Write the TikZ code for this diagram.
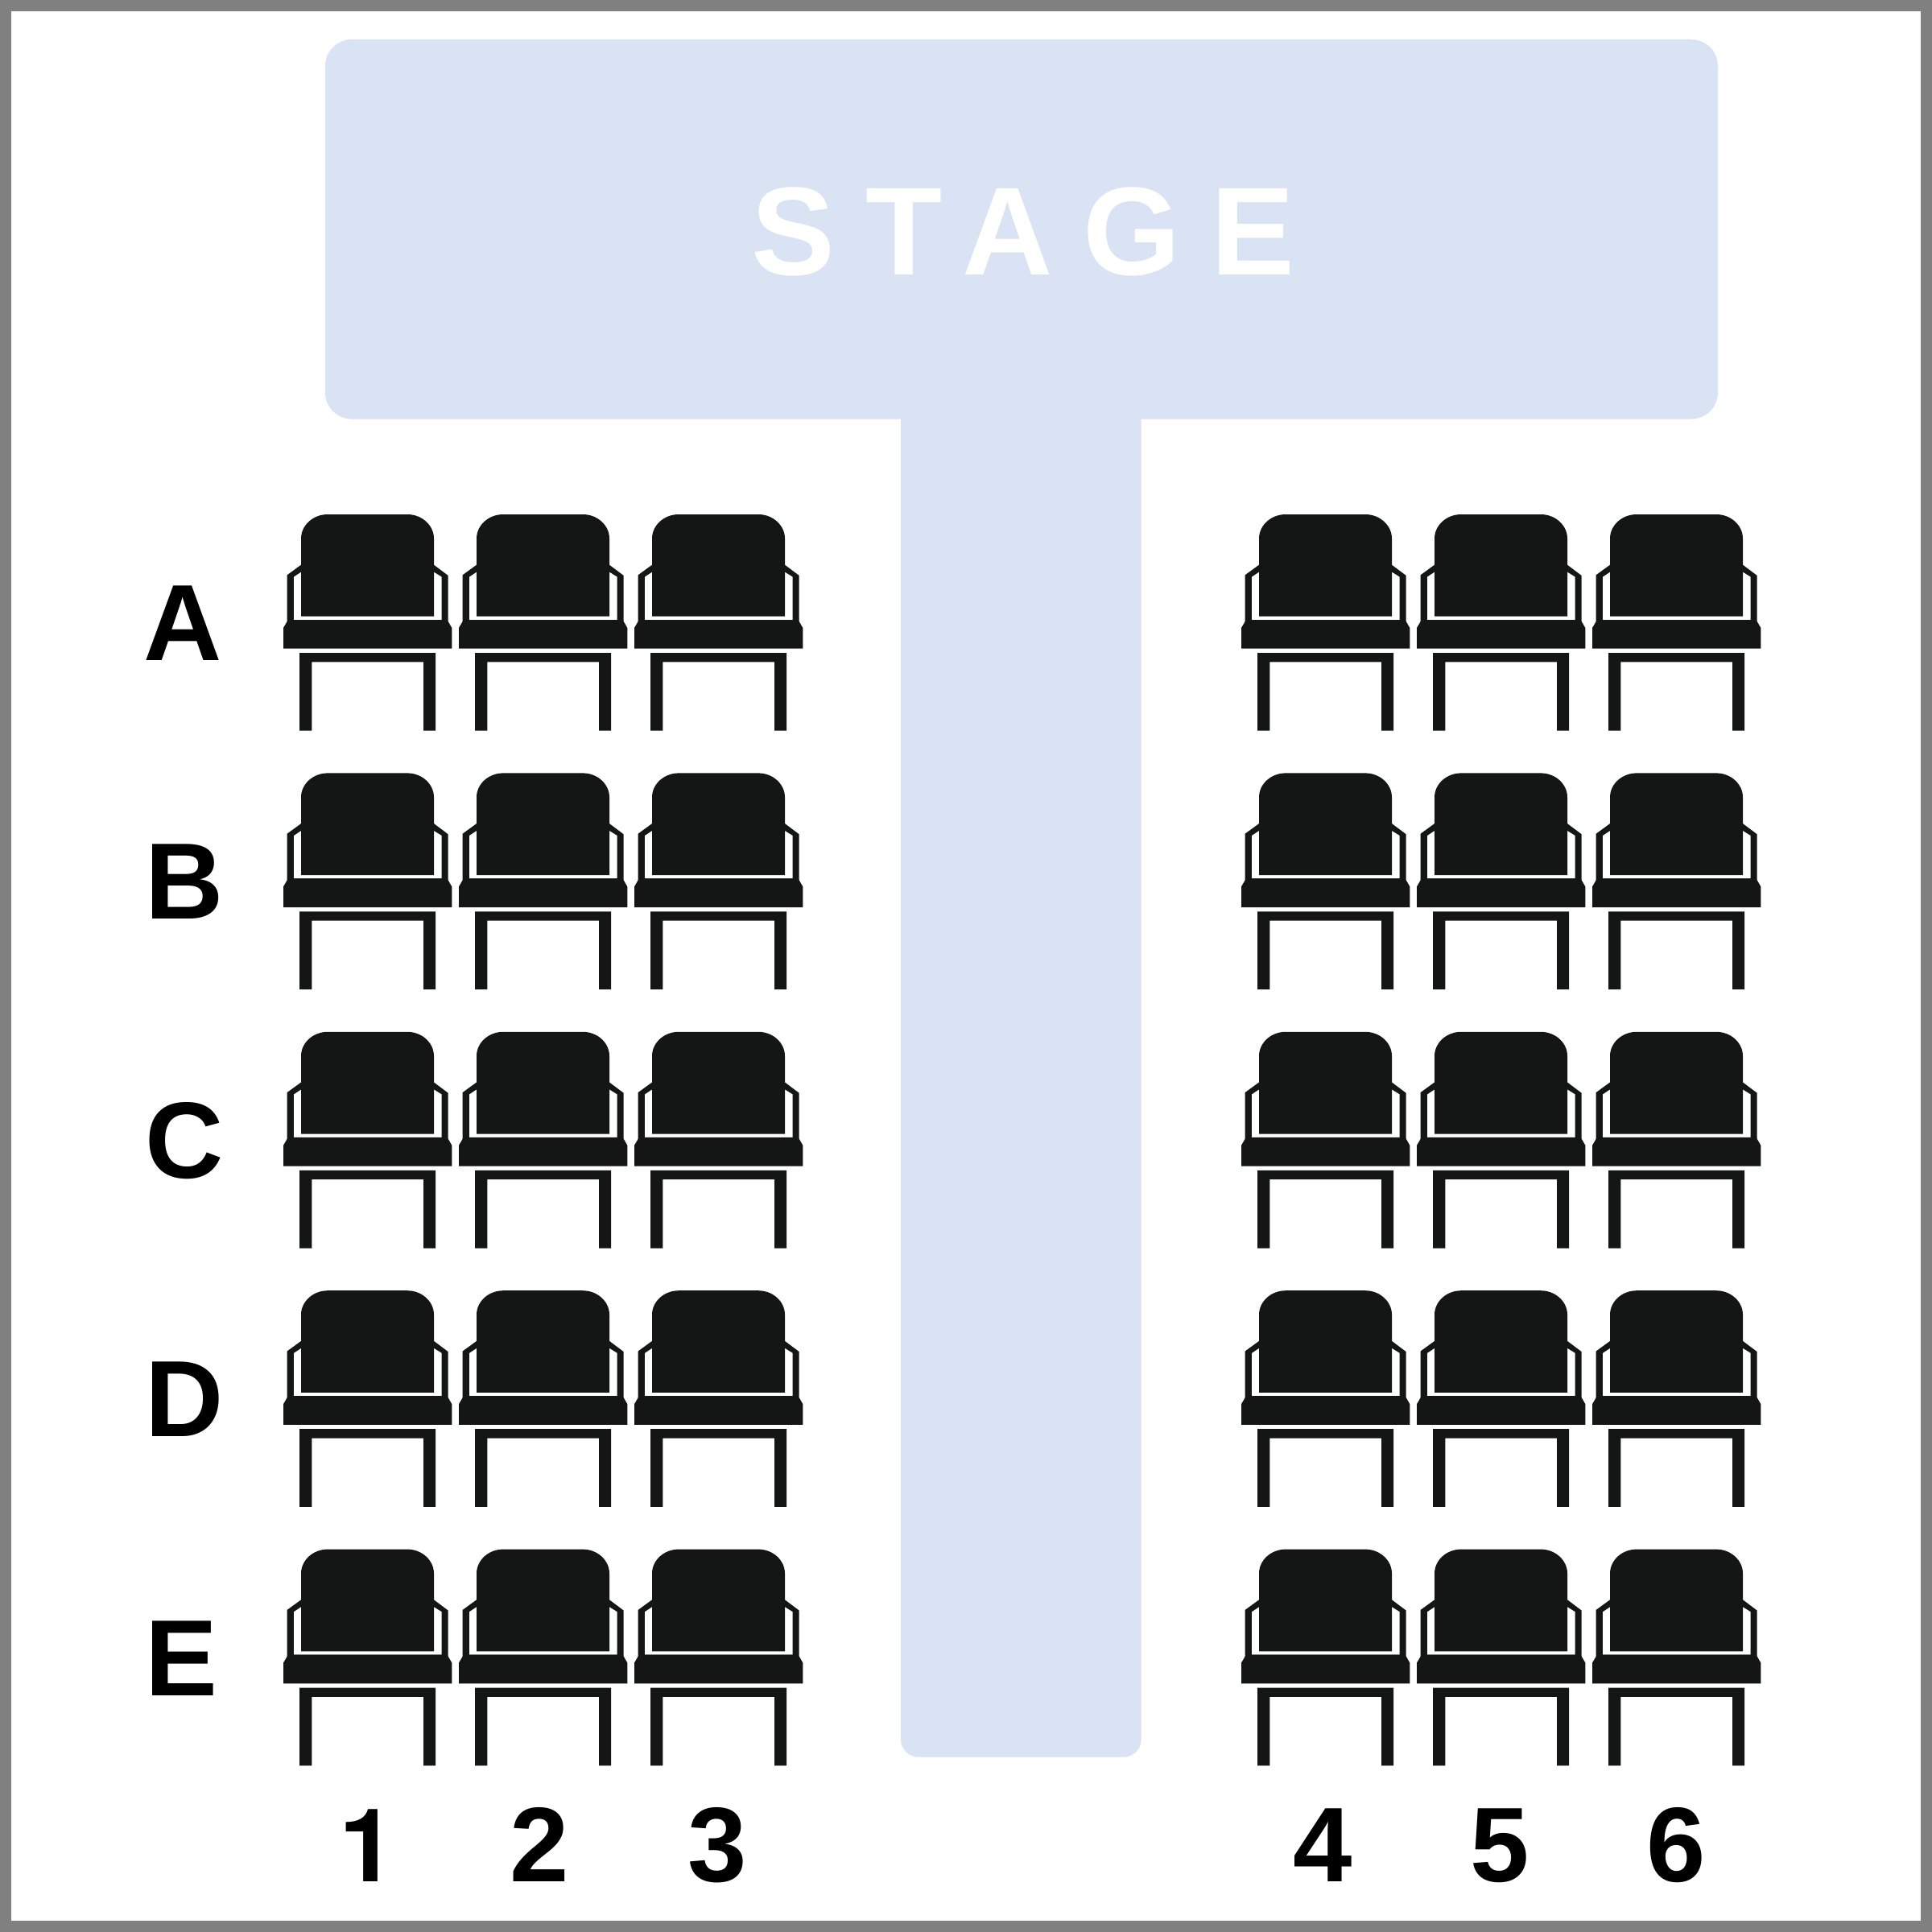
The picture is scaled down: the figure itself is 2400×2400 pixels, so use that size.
\documentclass[tikz,border=0pt]{standalone}
\usepackage{fontspec}
\setmainfont{Liberation Sans}
\newfontfamily\stagefont[LetterSpace=24]{Liberation Sans}
\newfontfamily\onefont{TeX Gyre Heros}
\definecolor{framegrey}{HTML}{808080}
\definecolor{stageblue}{HTML}{DAE3F3}
\definecolor{chairdark}{HTML}{141615}
\tikzset{
  x=0.01cm,y=-0.01cm,
  rowlabel/.style={anchor=base west,inner sep=0pt,font=\fontsize{38.3pt}{42pt}\selectfont\bfseries,text=black},
  collabel/.style={anchor=base,inner sep=0pt,font=\fontsize{37.5pt}{42pt}\selectfont\bfseries,text=black},
  onelabel/.style={anchor=base,inner sep=0pt,font=\fontsize{36pt}{42pt}\onefont\bfseries,text=black},
  stagelabel/.style={anchor=base west,inner sep=0pt,font=\fontsize{44.3pt}{48pt}\stagefont\bfseries,text=white},
  chair/.pic={
    % arms
    \fill[chairdark] (22,62.7) -- (4.7,75.3) -- (4.7,134) -- (204.7,134) -- (204.7,76) -- (187,62.7) -- cycle;
    \fill[white] (13,77.7) -- (22,71.7) -- (187,71.7) -- (196.7,77.7) -- (196.7,131) -- (13,131) -- cycle;
    % back
    \fill[chairdark] (22,126.7) -- (22,30) .. controls (22,13.5) and (37,0) .. (55,0) -- (154,0) .. controls (172,0) and (187,13.5) .. (187,30) -- (187,126.7) -- cycle;
    % seat
    \fill[chairdark] (0,166.7) -- (0,141) -- (4.7,133) -- (7,131) -- (202,131) -- (204.7,133) -- (209.3,141) -- (209.3,166.7) -- cycle;
    % legs
    \fill[chairdark,even odd rule] (20,268.7) -- (20,172) -- (189,172) -- (189,268.7) -- (174,268.7) -- (174,183.3) -- (35.3,183.3) -- (35.3,268.7) -- cycle;
  }
}
\begin{document}
\begin{tikzpicture}
\useasboundingbox (0,0) rectangle (2400,2400);
\fill[framegrey] (0,0) rectangle (2400,2400);
\fill[white] (14,14) rectangle (2386,2386);
\fill[stageblue,rounded corners=0.33cm] (404,49) rectangle (2134,520.5);
\fill[stageblue,rounded corners=0.22cm] (1119,480) rectangle (1417.7,2182.7);
\fill[stageblue] (1119,480) rectangle (1417.7,520.5);
\node[stagelabel] (stage) at (933,341) {STAGE};
\foreach \cx in {352,570,788,1542,1760,1978}
  \foreach \cy in {639,960.4,1281.8,1603.2,1924.6}
    \pic at (\cx,\cy) {chair};
\node[rowlabel] (rowA) at (178,820.4) {A};
\node[rowlabel] (rowB) at (180,1141.8) {B};
\node[rowlabel] (rowC) at (180,1463.2) {C};
\node[rowlabel] (rowD) at (180,1784.6) {D};
\node[rowlabel] (rowE) at (180,2106) {E};
\node[onelabel] (col1) at (457,2337) {1};
\node[collabel] (col2) at (670,2337) {2};
\node[collabel] (col3) at (891,2337) {3};
\node[collabel] (col4) at (1643,2337) {4};
\node[collabel] (col5) at (1863,2337) {5};
\node[collabel] (col6) at (2082,2337) {6};
\end{tikzpicture}
\end{document}
